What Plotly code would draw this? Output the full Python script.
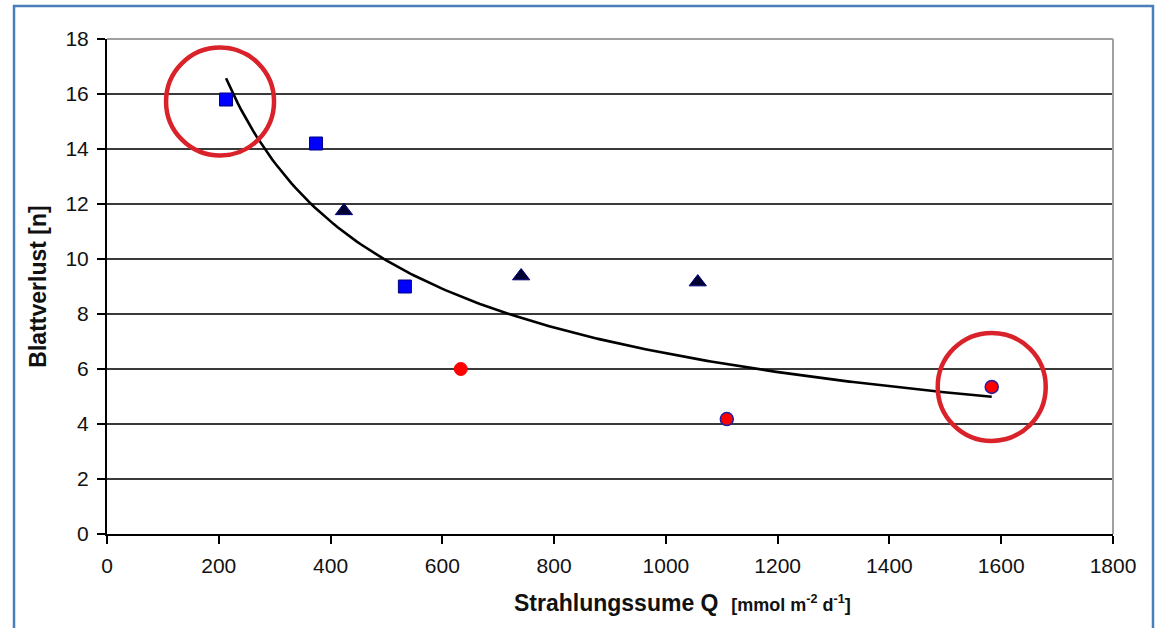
import numpy as np
import plotly.graph_objects as go

# Data
sq_x = [213, 374, 533]
sq_y = [15.8, 14.2, 9.0]
tri_x = [424, 741, 1057]
tri_y = [11.75, 9.38, 9.16]
circ_x = [633, 1109, 1583]
circ_y = [6.0, 4.18, 5.35]
x_ticks = [0, 200, 400, 600, 800, 1000, 1200, 1400, 1600, 1800]
y_ticks = [0, 2, 4, 6, 8, 10, 12, 14, 16, 18]

# Power trendline (least squares in log-log space, as in Excel)
all_x = np.array(sq_x + tri_x + circ_x, dtype=float)
all_y = np.array(sq_y + tri_y + circ_y, dtype=float)
b, ln_a = np.polyfit(np.log(all_x), np.log(all_y), 1)
fit_x = np.linspace(all_x.min(), all_x.max(), 200)
fit_y = np.exp(ln_a) * fit_x ** b

FONT = "Liberation Sans, Arial, sans-serif"

fig = go.Figure()
fig.add_trace(go.Scatter(x=fit_x, y=fit_y, mode="lines",
                         line=dict(color="black", width=2.6), hoverinfo="skip"))
fig.add_trace(go.Scatter(x=sq_x, y=sq_y, mode="markers",
                         marker=dict(symbol="square", size=13, color="#0000FF",
                                     line=dict(color="#000080", width=1))))
fig.add_trace(go.Scatter(x=tri_x, y=tri_y, mode="markers",
                         marker=dict(symbol="triangle-up", size=15, color="#000033",
                                     line=dict(color="#000080", width=1))))
fig.add_trace(go.Scatter(x=circ_x[:1], y=circ_y[:1], mode="markers",
                         marker=dict(symbol="circle", size=13, color="#FF0000",
                                     line=dict(color="#FF0000", width=1))))
fig.add_trace(go.Scatter(x=circ_x[1:], y=circ_y[1:], mode="markers",
                         marker=dict(symbol="circle", size=13, color="#FF0000",
                                     line=dict(color="#2020A0", width=1.5))))

shapes = []
# highlight circles (pixel-sized, anchored on data points)
for (ax, ay, dx, dy) in [(sq_x[0], sq_y[0], -6, -2), (circ_x[2], circ_y[2], 0, 0)]:
    r = 54
    shapes.append(dict(type="circle", xref="x", yref="y", xsizemode="pixel", ysizemode="pixel",
                       xanchor=ax, yanchor=ay, x0=dx - r, x1=dx + r, y0=dy - r, y1=dy + r,
                       line=dict(color="#D9222A", width=4.5), layer="above"))
# grey top/right plot border
shapes.append(dict(type="line", xref="paper", yref="paper", x0=0, x1=1, y0=1, y1=1,
                   line=dict(color="#A0A0A0", width=2), layer="above"))
shapes.append(dict(type="line", xref="paper", yref="paper", x0=1, x1=1, y0=0, y1=1,
                   line=dict(color="#A0A0A0", width=2), layer="above"))
# outer blue frame
W, H = 1157, 628
L, R, T, B = 107, 44, 39, 94
pw, ph = W - L - R, H - T - B
def px(xp): return (xp - L) / pw
def py(yp): return (H - B - yp) / ph
shapes.append(dict(type="rect", xref="paper", yref="paper",
                   x0=px(14), x1=px(1153), y0=py(6), y1=py(660),
                   line=dict(color="#4A7EBB", width=2.5), layer="above"))

annotations = [dict(
    xref="paper", yref="paper", x=px(682), y=py(603), xanchor="center", yanchor="middle",
    showarrow=False,
    text="<b>Strahlungssume Q</b>  <b><span style='font-size:18px'>[mmol m<sup>-2</sup> d<sup>-1</sup>]</span></b>",
    font=dict(size=23, family=FONT, color="#111111"))]

fig.update_layout(
    width=W, height=H, margin=dict(l=L, r=R, t=T, b=B),
    paper_bgcolor="white", plot_bgcolor="white", showlegend=False,
    font=dict(family=FONT, size=21, color="#111111"),
    shapes=shapes, annotations=annotations,
    xaxis=dict(range=[0, 1800], tickvals=x_ticks, ticktext=[str(v) for v in x_ticks],
               showgrid=False, zeroline=False, showline=True, linecolor="black", linewidth=2,
               ticks="outside", ticklen=8, tickwidth=2, tickcolor="black",
               ticklabelstandoff=4),
    yaxis=dict(range=[0, 18], tickvals=y_ticks, ticktext=[str(v) for v in y_ticks],
               showgrid=True, gridcolor="#3A3A3A", gridwidth=1.5,
               zeroline=False, showline=True, linecolor="black", linewidth=2,
               ticks="outside", ticklen=8, tickwidth=2, tickcolor="black",
               ticklabelstandoff=4,
               title=dict(text="<b>Blattverlust [n]</b>",
                          font=dict(size=23, family=FONT, color="#111111"), standoff=12)),
)

fig.write_html("out.html")
